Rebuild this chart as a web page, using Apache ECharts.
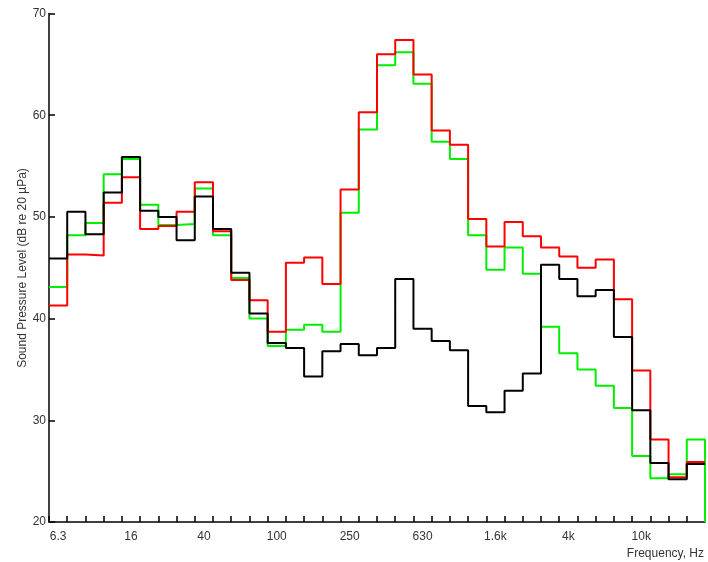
<!DOCTYPE html>
<html>
<head>
<meta charset="utf-8">
<script src="https://cdn.jsdelivr.net/npm/echarts@6/dist/echarts.min.js"></script>
<style>html,body{margin:0;padding:0;background:#fff;}#c{width:708px;height:562px;}</style>
</head>
<body>
<div id="c"></div>
<script>
// 1/3-octave band centre frequencies
var bands = ['6.3','8','10','12.5','16','20','25','31.5','40','50','63','80','100','125','160','200','250','315','400','500','630','800','1k','1.25k','1.6k','2k','2.5k','3.15k','4k','5k','6.3k','8k','10k','12.5k','16k','20k'];
// Band levels, dB re 20 µPa
var greenLevels = [43.1,48.2,49.4,54.2,55.7,51.2,49.2,49.3,52.8,48.2,44.0,40.0,37.3,38.9,39.4,38.7,50.4,58.6,64.9,66.2,63.1,57.4,55.7,48.2,44.8,47.0,44.4,39.2,36.6,35.0,33.4,31.2,26.5,24.3,24.7,28.1];
var redLevels = [41.3,46.3,46.2,51.4,53.9,48.8,49.1,50.5,53.4,48.6,43.8,41.8,38.7,45.5,46.0,43.4,52.7,60.3,66.0,67.4,64.0,58.5,57.1,49.8,47.1,49.5,48.1,47.0,46.1,45.0,45.8,41.9,34.9,28.1,24.4,25.9];
var blackLevels = [45.9,50.5,48.3,52.4,55.9,50.6,50.0,47.7,52.0,48.8,44.5,40.5,37.6,37.1,34.3,36.8,37.5,36.4,37.1,43.9,39.0,37.8,36.9,31.4,30.8,32.9,34.6,45.3,43.9,42.2,42.8,38.2,31.0,25.8,24.2,25.7];
var greenEnd = 20; // green trace drops to the axis floor after the last band
var yTicks = [20,30,40,50,60,70];

function stepData(levels, endLevel) {
  var d = levels.map(function (v, i) { return [i, v]; });
  d.push([levels.length, levels[levels.length - 1]]);
  if (endLevel !== undefined) d.push([levels.length, endLevel]);
  return d;
}

var chart = echarts.init(document.getElementById('c'));
var font = 'Liberation Sans, Arial, sans-serif';
chart.setOption({
  animation: false,
  backgroundColor: '#fff',
  grid: { left: 49, right: 3, top: 13.5, bottom: 40 },
  xAxis: [
    {
      type: 'category', data: bands, boundaryGap: true, position: 'bottom',
      axisLine: { lineStyle: { color: '#000', width: 1.5 } },
      axisTick: { show: true, inside: true, interval: 0, length: 6, lineStyle: { color: '#000', width: 1.5 } },
      axisLabel: { interval: 3, color: '#333', fontFamily: font, fontSize: 12, margin: 9 },
      splitLine: { show: false }
    },
    {
      type: 'value', min: 0, max: bands.length, show: false
    }
  ],
  yAxis: {
    type: 'value', min: yTicks[0], max: yTicks[yTicks.length - 1], interval: 10,
    axisLine: { show: true, lineStyle: { color: '#000', width: 1.5 } },
    axisTick: { show: true, inside: true, length: 6, lineStyle: { color: '#000', width: 1.5 } },
    axisLabel: { color: '#333', fontFamily: font, fontSize: 12, margin: 3 },
    splitLine: { show: false }
  },
  graphic: [
    { type: 'text', right: 4, top: 548, style: { text: 'Frequency, Hz', fill: '#333', font: '12px ' + font } },
    { type: 'text', x: 23, y: 268, rotation: Math.PI / 2, style: { text: 'Sound Pressure Level (dB re 20 µPa)', fill: '#333', font: '12px ' + font, textAlign: 'center', textVerticalAlign: 'middle' } }
  ],
  series: [
    { type: 'line', xAxisIndex: 1, step: 'end', symbol: 'none', data: stepData(greenLevels, greenEnd), lineStyle: { color: '#00ee00', width: 2 }, z: 2 },
    { type: 'line', xAxisIndex: 1, step: 'end', symbol: 'none', data: stepData(redLevels), lineStyle: { color: '#ff0000', width: 2 }, z: 3 },
    { type: 'line', xAxisIndex: 1, step: 'end', symbol: 'none', data: stepData(blackLevels), lineStyle: { color: '#000000', width: 2 }, z: 4 }
  ]
});
</script>
</body>
</html>
